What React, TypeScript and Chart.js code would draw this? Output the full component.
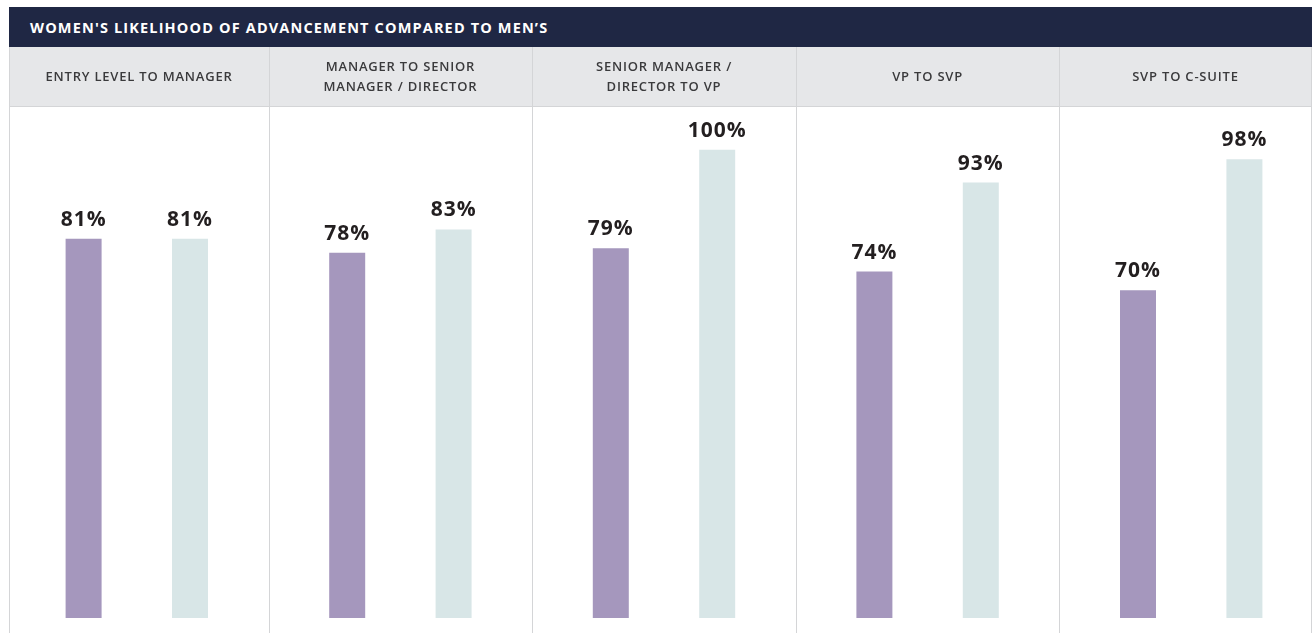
import React, { useEffect, useRef } from "react";
import { Chart, registerables } from "chart.js";

Chart.register(...registerables);

const TITLE = "WOMEN'S LIKELIHOOD OF ADVANCEMENT COMPARED TO MEN’S";

const categories: string[][] = [
  ["ENTRY LEVEL TO MANAGER"],
  ["MANAGER TO SENIOR", "MANAGER / DIRECTOR"],
  ["SENIOR MANAGER /", "DIRECTOR TO VP"],
  ["VP TO SVP"],
  ["SVP TO C-SUITE"],
];

const seriesNames = ["Series 1", "Series 2"];
const series1Values = [81, 78, 79, 74, 70];
const series2Values = [81, 83, 100, 93, 98];

const COLORS = {
  navy: "#1f2744",
  band: "#e6e7e9",
  line: "#d4d5d7",
  purple: "#a597bd",
  teal: "#d8e6e7",
  label: "#3a3a3c",
  value: "#231f20",
};

const FRAME_L = 9.5;
const FRAME_R = 1311.5;
const BAND_TOP = 47;
const BOTTOM = 633;
const HEADER_MID = 77;

const decorPlugin = {
  id: "decor",
  beforeDatasetsDraw(chart: any) {
    const ctx = chart.ctx as CanvasRenderingContext2D;
    const xs = chart.scales.x;
    const n = categories.length;
    const ticks = categories.map((_, i) => xs.getPixelForValue(i));
    const bounds = [FRAME_L];
    for (let i = 1; i < n; i++) bounds.push((ticks[i - 1] + ticks[i]) / 2);
    bounds.push(FRAME_R);
    ctx.save();
    ctx.strokeStyle = COLORS.line;
    ctx.lineWidth = 1;
    for (let i = 1; i < n; i++) {
      const x = Math.round(bounds[i]) + 0.5;
      ctx.beginPath();
      ctx.moveTo(x, BAND_TOP);
      ctx.lineTo(x, BOTTOM);
      ctx.stroke();
    }
    ctx.fillStyle = COLORS.label;
    ctx.font = "600 13px 'Open Sans'";
    (ctx as any).letterSpacing = "0.8px";
    ctx.textAlign = "center";
    ctx.textBaseline = "middle";
    const lh = 20;
    categories.forEach((lines, i) => {
      const cx = (bounds[i] + bounds[i + 1]) / 2;
      const y0 = HEADER_MID - ((lines.length - 1) * lh) / 2;
      lines.forEach((l, j) => ctx.fillText(l, cx, y0 + j * lh));
    });
    ctx.restore();
  },
  afterDatasetsDraw(chart: any) {
    const ctx = chart.ctx as CanvasRenderingContext2D;
    ctx.save();
    ctx.fillStyle = COLORS.value;
    ctx.font = "700 21px 'Open Sans'";
    (ctx as any).letterSpacing = "1px";
    ctx.textAlign = "center";
    ctx.textBaseline = "alphabetic";
    chart.data.datasets.forEach((ds: any, di: number) => {
      const meta = chart.getDatasetMeta(di);
      meta.data.forEach((bar: any, i: number) => {
        ctx.fillText(ds.data[i] + "%", bar.x, bar.y - 13);
      });
    });
    ctx.restore();
  },
};

export default function App() {
  const ref = useRef<HTMLCanvasElement | null>(null);
  useEffect(() => {
    if (!ref.current) return;
    const chart = new Chart(ref.current, {
      type: "bar",
      data: {
        labels: categories.map((c) => c.join(" ")),
        datasets: [
          {
            label: seriesNames[0],
            data: series1Values,
            backgroundColor: COLORS.purple,
            categoryPercentage: 0.8073,
            barPercentage: 0.3383,
          },
          {
            label: seriesNames[1],
            data: series2Values,
            backgroundColor: COLORS.teal,
            categoryPercentage: 0.8073,
            barPercentage: 0.3383,
          },
        ],
      },
      options: {
        responsive: false,
        animation: false,
        devicePixelRatio: 1,
        layout: { padding: { left: 5, right: 5, top: 103, bottom: 15 } },
        plugins: { legend: { display: false }, tooltip: { enabled: false } },
        scales: {
          x: { display: false },
          y: { display: false, min: 0, max: 110 },
        },
      },
      plugins: [decorPlugin],
    });
    return () => chart.destroy();
  }, []);

  return (
    <div
      style={{
        position: "fixed",
        left: 0,
        top: 0,
        width: 1314,
        height: 633,
        overflow: "hidden",
        background: "#fff",
      }}
    >
      <div
        style={{
          position: "absolute",
          left: 9,
          top: 7,
          width: 1303,
          height: 40,
          boxSizing: "border-box",
          paddingTop: 2,
          paddingLeft: 21,
          background: COLORS.navy,
          color: "#fff",
          fontFamily: "'Open Sans'",
          fontWeight: 700,
          fontSize: 14.5,
          letterSpacing: "1.15px",
          lineHeight: "38px",
          whiteSpace: "nowrap",
        }}
      >
        {TITLE}
      </div>
      <div
        style={{
          position: "absolute",
          left: 9,
          top: 47,
          width: 1303,
          height: 60,
          boxSizing: "border-box",
          background: COLORS.band,
          borderBottom: `1px solid ${COLORS.line}`,
        }}
      />
      <div
        style={{
          position: "absolute",
          left: 9,
          top: 47,
          width: 1303,
          height: 586,
          boxSizing: "border-box",
          borderLeft: `1px solid ${COLORS.line}`,
          borderRight: `1px solid ${COLORS.line}`,
        }}
      />
      <canvas
        ref={ref}
        width={1328}
        height={633}
        style={{ position: "absolute", left: 0, top: 0, width: 1328, height: 633 }}
      />
    </div>
  );
}
